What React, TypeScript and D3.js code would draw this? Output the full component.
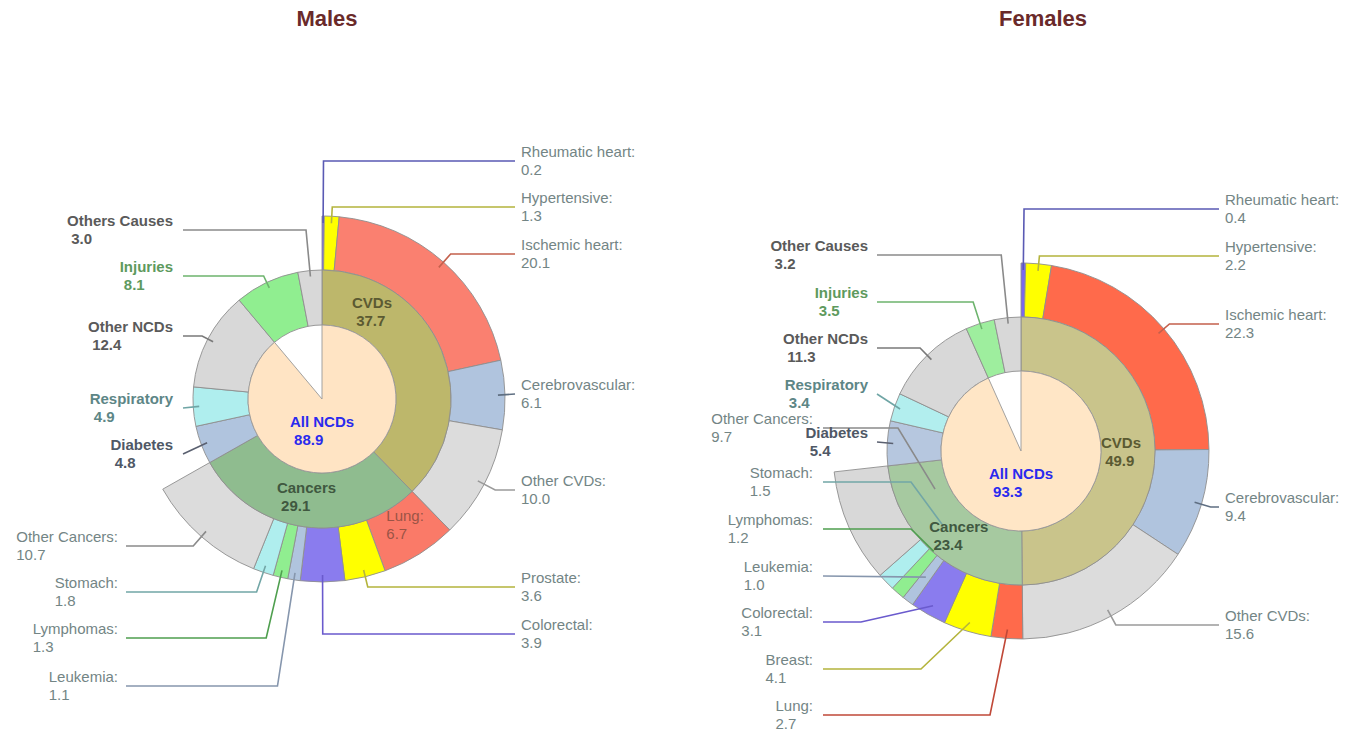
import React, { useEffect, useRef } from 'react';
import * as d3 from 'd3';

// ---- data ----
const maleCauseNames = ['CVDs', 'Cancers', 'Diabetes', 'Respiratory', 'Other NCDs', 'Injuries', 'Others Causes'];
const femaleCauseNames = ['CVDs', 'Cancers', 'Diabetes', 'Respiratory', 'Other NCDs', 'Injuries', 'Other Causes'];
const maleCauses = [37.7, 29.1, 4.8, 4.9, 12.4, 8.1, 3.0];
const femaleCauses = [49.9, 23.4, 5.4, 3.4, 11.3, 3.5, 3.2];
const maleNCDs = 88.9;
const femaleNCDs = 93.3;

const cvdNames = ['Rheumatic heart', 'Hypertensive', 'Ischemic heart', 'Cerebrovascular', 'Other CVDs'];
const maleCVD = [0.2, 1.3, 20.1, 6.1, 10.0];
const femaleCVD = [0.4, 2.2, 22.3, 9.4, 15.6];

const maleCancerNames = ['Lung', 'Prostate', 'Colorectal', 'Leukemia', 'Lymphomas', 'Stomach', 'Other Cancers'];
const femaleCancerNames = ['Lung', 'Breast', 'Colorectal', 'Leukemia', 'Lymphomas', 'Stomach', 'Other Cancers'];
const maleCancer = [6.7, 3.6, 3.9, 1.1, 1.3, 1.8, 10.7];
const femaleCancer = [2.7, 4.1, 3.1, 1.0, 1.2, 1.5, 9.7];

// ---- styles ----
const FONT = '"Liberation Sans", Arial, Helvetica, sans-serif';

const maleColors = {
  center: '#ffe4c4',
  causes: ['#bdb76b', '#8fbc8f', '#b0c4de', '#afeeee', '#d8d8d8', '#90ee90', '#d8d8d8'],
  cvd: ['#7b68ee', '#ffff00', '#fa8070', '#b0c4de', '#dcdcdc'],
  cancer: ['#fa7a68', '#ffff00', '#8a7cee', '#b0c4de', '#90ee90', '#afeeee', '#dcdcdc'],
};
const femaleColors = {
  center: '#ffe6c6',
  causes: ['#c9c48b', '#a6c9a0', '#b6c7df', '#b2eeee', '#d8d8d8', '#9eee9e', '#d8d8d8'],
  cvd: ['#7b68ee', '#ffff00', '#ff6a4b', '#b0c4de', '#dcdcdc'],
  cancer: ['#ff6a4b', '#ffff00', '#8a7cee', '#b0c4de', '#90ee90', '#afeeee', '#d8d8d8'],
};

const lineColors: Record<string, string> = {
  'Rheumatic heart': '#5a5ab4', Hypertensive: '#b4b43c', 'Ischemic heart': '#c4604c',
  Cerebrovascular: '#5f6f82', 'Other CVDs': '#9a9a9a', Lung: '#c04838', Prostate: '#b4b43c',
  Breast: '#b4b43c', Colorectal: '#6a5acd', Leukemia: '#8696ad', Lymphomas: '#4f9f4f',
  Stomach: '#72a6a6', 'Other Cancers': '#8a8a8a', 'Others Causes': '#8a8a8a', 'Other Causes': '#8a8a8a',
  Injuries: '#6db46d', 'Other NCDs': '#7a7a7a', Respiratory: '#6fa5a5', Diabetes: '#5a6070',
};
const boldColors: Record<string, string> = {
  'Others Causes': '#5a5a5a', 'Other Causes': '#5a5a5a', Injuries: '#5e9a5e',
  'Other NCDs': '#5a5a5a', Respiratory: '#5d8686', Diabetes: '#4f5866',
};
const innerColors: Record<string, string> = {
  CVDs: '#5b5a32', Cancers: '#405840', Lung: '#9b5446', 'All NCDs': '#2a2aee',
};

// ---- layout ----
type Side = 'R' | 'L' | 'B';
interface LabelPos { side: Side; y: number; anchorR?: number; elbowX?: number }
interface Layout {
  cx: number; cy: number; r0: number; r1: number; r2: number;
  title: string; titleX: number;
  rightText: number; rightLine: number; boldText: number; boldLine: number;
  leftText: number; leftLine: number;
  labels: Record<string, LabelPos>;
  inner: Record<string, [number, number]>;
}

const maleLayout: Layout = {
  cx: 322, cy: 399, r0: 74, r1: 129, r2: 183,
  title: 'Males', titleX: 327,
  rightText: 521, rightLine: 515, boldText: 173, boldLine: 183, leftText: 118, leftLine: 126,
  labels: {
    'Rheumatic heart': { side: 'R', y: 161 }, Hypertensive: { side: 'R', y: 207 },
    'Ischemic heart': { side: 'R', y: 254 }, Cerebrovascular: { side: 'R', y: 394 },
    'Other CVDs': { side: 'R', y: 490 }, Prostate: { side: 'R', y: 587 }, Colorectal: { side: 'R', y: 634 },
    'Other Cancers': { side: 'L', y: 546 }, Stomach: { side: 'L', y: 592 },
    Lymphomas: { side: 'L', y: 638 }, Leukemia: { side: 'L', y: 686 },
    'Others Causes': { side: 'B', y: 230 }, Injuries: { side: 'B', y: 276 },
    'Other NCDs': { side: 'B', y: 336 }, Respiratory: { side: 'B', y: 408 }, Diabetes: { side: 'B', y: 454 },
  },
  inner: { CVDs: [30, 100], Cancers: [189, 99], Lung: [146.6, 151], 'All NCDs': [180, 32] },
};

const femaleLayout: Layout = {
  cx: 1021, cy: 451, r0: 80, r1: 134, r2: 188,
  title: 'Females', titleX: 1043,
  rightText: 1225, rightLine: 1219, boldText: 868, boldLine: 877, leftText: 813, leftLine: 823,
  labels: {
    'Rheumatic heart': { side: 'R', y: 209 }, Hypertensive: { side: 'R', y: 256 },
    'Ischemic heart': { side: 'R', y: 324 }, Cerebrovascular: { side: 'R', y: 507 },
    'Other CVDs': { side: 'R', y: 625 },
    'Other Cancers': { side: 'L', y: 428, anchorR: 94, elbowX: 898 },
    Stomach: { side: 'L', y: 482, anchorR: 108, elbowX: 911 },
    Lymphomas: { side: 'L', y: 529, anchorR: 133, elbowX: 911 },
    Leukemia: { side: 'L', y: 576, anchorR: 158 },
    Colorectal: { side: 'L', y: 622, anchorR: 178, elbowX: 861 },
    Breast: { side: 'L', y: 669, anchorR: 179, elbowX: 921 },
    Lung: { side: 'L', y: 715, anchorR: 179, elbowX: 990 },
    'Other Causes': { side: 'B', y: 255 }, Injuries: { side: 'B', y: 302 },
    'Other NCDs': { side: 'B', y: 348 }, Respiratory: { side: 'B', y: 394 }, Diabetes: { side: 'B', y: 442 },
  },
  inner: { CVDs: [90.5, 100], Cancers: [216.3, 105], 'All NCDs': [180, 32] },
};

interface ChartData {
  causeNames: string[]; causes: number[]; ncds: number;
  cvd: number[]; cancerNames: string[]; cancer: number[];
  colors: typeof maleColors; layout: Layout;
}

const charts: ChartData[] = [
  { causeNames: maleCauseNames, causes: maleCauses, ncds: maleNCDs, cvd: maleCVD,
    cancerNames: maleCancerNames, cancer: maleCancer, colors: maleColors, layout: maleLayout },
  { causeNames: femaleCauseNames, causes: femaleCauses, ncds: femaleNCDs, cvd: femaleCVD,
    cancerNames: femaleCancerNames, cancer: femaleCancer, colors: femaleColors, layout: femaleLayout },
];

type Sel = d3.Selection<SVGGElement, unknown, null, undefined>;

// two-line label, lines left-aligned inside the block
function textBlock(g: Sel, lines: string[], x: number, my: number, align: 'start' | 'end' | 'middle',
  size: number, weight: string, fill: string) {
  const t = g.append('text')
    .attr('font-family', FONT).attr('font-size', size)
    .attr('font-weight', weight).attr('fill', fill);
  const spans = lines.map((s, i) => t.append('tspan').attr('y', my - 4 + i * 18).text(s));
  const w = d3.max(spans, (s) => (s.node() as SVGTSpanElement).getComputedTextLength()) || 0;
  const left = align === 'start' ? x : align === 'end' ? x - w : x - w / 2;
  spans.forEach((s) => s.attr('x', left));
}

function drawChart(root: Sel, d: ChartData) {
  const L = d.layout;
  const g = root.append('g');
  const arc = d3.arc<any>();
  const pt = (a: number, r: number): [number, number] => [L.cx + r * Math.sin(a), L.cy - r * Math.cos(a)];

  const pie = d3.pie<number>().sort(null).value((v) => v);
  const ring2 = pie(d.causes);
  const cvdArcs = d3.pie<number>().sort(null)
    .startAngle(ring2[0].startAngle).endAngle(ring2[0].endAngle)(d.cvd);
  const cancerArcs = d3.pie<number>().sort(null)
    .startAngle(ring2[1].startAngle).endAngle(ring2[1].endAngle)(d.cancer);

  const outer = g.append('g').attr('transform', `translate(${L.cx},${L.cy})`);

  // outer ring: CVD and cancer types
  const ring3 = [
    ...cvdArcs.map((a, i) => ({ a, name: cvdNames[i], fill: d.colors.cvd[i] })),
    ...cancerArcs.map((a, i) => ({ a, name: d.cancerNames[i], fill: d.colors.cancer[i] })),
  ];
  ring3.forEach((s) => {
    outer.append('path')
      .attr('d', arc({ innerRadius: L.r1, outerRadius: L.r2, startAngle: s.a.startAngle, endAngle: s.a.endAngle }))
      .attr('fill', s.fill).attr('stroke', '#8f8f8f').attr('stroke-width', 0.9);
  });

  // middle ring: causes
  ring2.forEach((s, i) => {
    outer.append('path')
      .attr('d', arc({ innerRadius: L.r0, outerRadius: L.r1, startAngle: s.startAngle, endAngle: s.endAngle }))
      .attr('fill', d.colors.causes[i]).attr('stroke', '#8f8f8f').attr('stroke-width', 0.9);
  });

  // center: all NCDs
  const ncdEnd = (2 * Math.PI * d.ncds) / 100;
  outer.append('path')
    .attr('d', arc({ innerRadius: 0, outerRadius: L.r0, startAngle: 0, endAngle: ncdEnd }))
    .attr('fill', d.colors.center).attr('stroke', '#999').attr('stroke-width', 0.9);

  // leader lines + side labels
  const labelled = [
    ...ring3.map((s) => ({ name: s.name, a: s.a, r: L.r2 - 7, value: s.a.data })),
    ...ring2.map((s, i) => ({ name: d.causeNames[i], a: s, r: L.r1 - 6, value: s.data })),
  ];
  labelled.forEach((s) => {
    const pos = L.labels[s.name];
    if (!pos) return;
    const mid = (s.a.startAngle + s.a.endAngle) / 2;
    const anchor = pt(mid, pos.anchorR ?? s.r);
    const lineX = pos.side === 'R' ? L.rightLine : pos.side === 'B' ? L.boldLine : L.leftLine;
    let pts: [number, number][];
    if (pos.elbowX !== undefined) {
      pts = [anchor, [pos.elbowX, pos.y], [lineX, pos.y]];
    } else {
      const dx = Math.sin(mid), dy = -Math.cos(mid);
      const t = Math.abs(dy) > 1e-6 ? (pos.y - anchor[1]) / dy : -1;
      const ex = anchor[0] + dx * t;
      const inside = pos.side === 'R' ? ex < lineX - 2 : ex > lineX + 2;
      pts = t > 0 && inside ? [anchor, [ex, pos.y], [lineX, pos.y]] : [anchor, [lineX, pos.y]];
    }
    g.append('path')
      .attr('d', d3.line()(pts))
      .attr('fill', 'none').attr('stroke', lineColors[s.name] || '#888').attr('stroke-width', 1.6);

    const v = s.value.toFixed(1);
    if (pos.side === 'B') {
      textBlock(g, [s.name, '\u00a0' + v], L.boldText, pos.y, 'end', 15, 'bold', boldColors[s.name] || '#555');
    } else {
      textBlock(g, [s.name + ':', v], pos.side === 'R' ? L.rightText : L.leftText, pos.y,
        pos.side === 'R' ? 'start' : 'end', 15, 'normal', '#738585');
    }
  });

  // labels drawn inside the rings
  const innerValues: Record<string, number> = {
    CVDs: d.causes[0], Cancers: d.causes[1], 'All NCDs': d.ncds,
  };
  Object.entries(L.inner).forEach(([name, [deg, r]]) => {
    const [x, y] = pt((deg * Math.PI) / 180, r);
    if (name === 'Lung') {
      const v = d.cancer[d.cancerNames.indexOf('Lung')];
      textBlock(g, ['Lung:', v.toFixed(1)], x, y, 'middle', 15, 'normal', innerColors.Lung);
    } else {
      textBlock(g, [name, '\u00a0' + innerValues[name].toFixed(1)], x, y, 'middle', 15, 'bold', innerColors[name]);
    }
  });

  root.append('text')
    .attr('x', L.titleX).attr('y', 26)
    .attr('text-anchor', 'middle')
    .attr('font-family', FONT).attr('font-size', 22).attr('font-weight', 'bold')
    .attr('fill', '#6a2a2a')
    .text(L.title);
}

const App: React.FC = () => {
  const svgRef = useRef<SVGSVGElement | null>(null);

  useEffect(() => {
    if (!svgRef.current) return;
    const svg = d3.select(svgRef.current);
    svg.selectAll('*').remove();
    const root = svg.append('g') as unknown as Sel;
    charts.forEach((c) => drawChart(root, c));
  }, []);

  return (
    <svg
      ref={svgRef}
      width={1357}
      height={733}
      style={{ position: 'absolute', left: 0, top: 0, background: '#fff', display: 'block' }}
    />
  );
};

export default App;
